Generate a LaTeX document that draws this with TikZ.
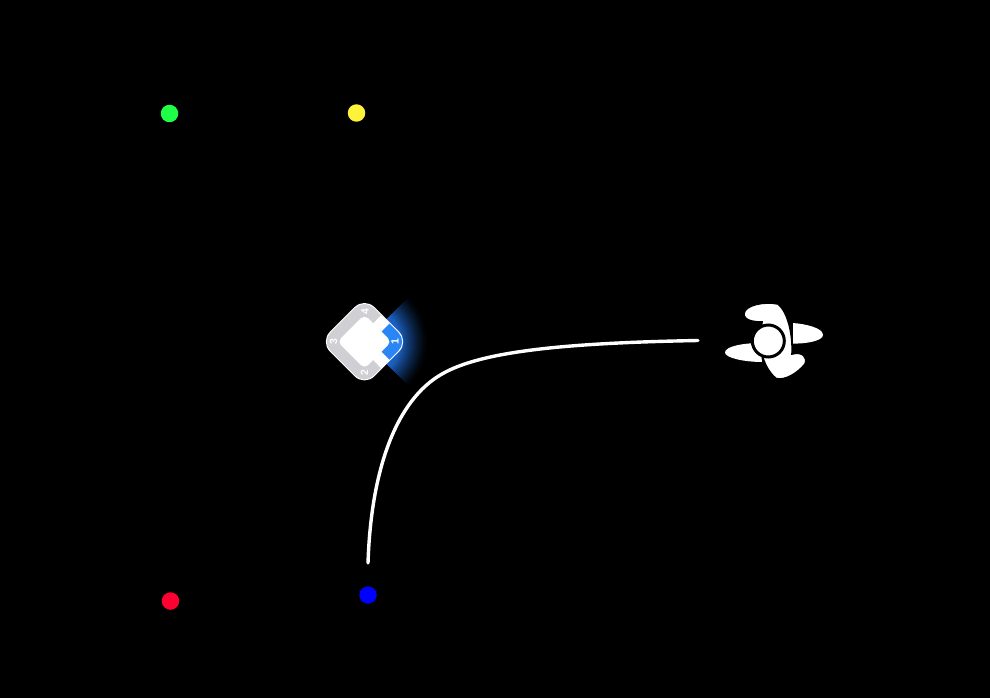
\documentclass[tikz,border=0pt]{standalone}
\usepackage{fontspec}
\setmainfont{Liberation Sans}
\definecolor{ballgreen}{HTML}{1EFF46}
\definecolor{ballyellow}{HTML}{FFF23A}
\definecolor{ballred}{HTML}{FF0030}
\definecolor{ballblue}{HTML}{0000FF}
\definecolor{plategray}{HTML}{CFCFD4}
\definecolor{baseblue}{HTML}{2B86F5}
\definecolor{glowblue}{HTML}{2070E0}
\tikzset{
  ball/.style={circle,minimum size=17.5pt,inner sep=0pt,draw=none},
  basenum/.style={text=white,font=\bfseries\fontsize{10.5}{10.5}\selectfont,inner sep=0pt},
  track/.style={draw=white,line width=3.4pt,line cap=round},
  blade/.style={fill=white,draw=black,line width=1.6pt}
}
\begin{document}
\begin{tikzpicture}[x=1pt,y=-1pt]
\useasboundingbox (0,0) rectangle (990,698);
\fill[black] (0,0) rectangle (990,698);
% balls
\node[ball,fill=ballgreen] (green) at (169.5,113.5) {};
\node[ball,fill=ballyellow] (yellow) at (356.5,113) {};
\node[ball,fill=ballred] (red) at (170.5,601) {};
\node[ball,fill=ballblue] (blue) at (368,595) {};
% glow
\begin{scope}
\clip (364.5,341.7) -- (424.5,281.7) -- (440,341.7) -- (424.5,401.7) -- cycle;
\foreach \r in {64,63,...,36}{
  \pgfmathsetmacro{\p}{100*pow((64-\r)/28,1.35)*0.85}
  \fill[glowblue!\p!black] (364.5,341.7) circle (\r);
}
\end{scope}
% plate
\begin{scope}[shift={(364.5,341.7)}]
\fill[white,rounded corners=14pt] (-44.5,0) -- (0,-44.5) -- (44.5,0) -- (0,44.5) -- cycle;
\fill[plategray,rounded corners=13pt] (-43,0) -- (0,-43) -- (43,0) -- (0,43) -- cycle;
\begin{scope}
\clip[rounded corners=13pt] (-43,0) -- (0,-43) -- (43,0) -- (0,43) -- cycle;
\fill[white] (8.8,-18.4) -- (19,-29) -- (50,-29) -- (50,29) -- (19,29) -- (8.8,18.4) -- cycle;
\fill[baseblue] (17,-10) -- (25.5,-18.5) -- (50,-18.5) -- (50,18.5) -- (25.5,18.5) -- (17,10) -- (24.5,0) -- cycle;
\end{scope}
\fill[white,rounded corners=5pt] (-27,0) -- (0,-27) -- (27,0) -- (0,27) -- cycle;
\end{scope}
\node[basenum,rotate=90] (b1) at (395,342) {1};
\node[basenum,rotate=90] (b2) at (364.5,372.5) {2};
\node[basenum,rotate=90] (b3) at (333.5,342) {3};
\node[basenum,rotate=90] (b4) at (365,311.5) {4};
% track
\coordinate (trackA) at (698,340.5);
\coordinate (trackB) at (368,563);
\draw[track] (trackA) .. controls (560,343) and (480,352) .. (442,374) .. controls (396,400) and (371,470) .. (trackB);
% pitcher
\path[blade,draw=none] (793,323) .. controls (806,324) and (823,328) .. (823,335) .. controls (823,341) and (805,344) .. (793,343.5) -- cycle;
\path[blade,draw=none] (760,343) .. controls (745,343) and (725,346) .. (725,352.5) .. controls (725,358) and (745,362) .. (762,362) -- cycle;
\path[blade] (744,314) .. controls (744,305) and (765,301) .. (778,304) .. controls (788,312) and (793,335) .. (792,354)
 .. controls (803,351) and (808,358) .. (805,364) .. controls (798,373) and (785,381) .. (776,378.5) .. controls (768,372) and (762,360) .. (760,345) -- (762,322) .. controls (755,322) and (744,321) .. (744,314) -- cycle;
\node[circle,fill=white,draw=black,line width=3pt,minimum size=32pt,inner sep=0pt] (pitcher) at (768.3,341) {};
\end{tikzpicture}
\end{document}
